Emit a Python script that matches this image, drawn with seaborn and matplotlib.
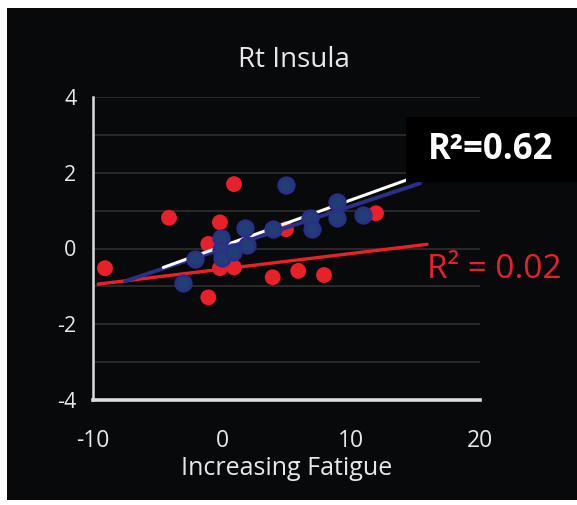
import matplotlib
matplotlib.use("Agg")
import matplotlib.pyplot as plt
from matplotlib.patches import Rectangle
import numpy as np
import pandas as pd
import seaborn as sns

# Per-subject change scores against fatigue
red_x = [-9.07, -4.11, -1.06, -0.16, 0.93, -0.16, 0.93, -1.06, 3.93, 4.96, 5.91, 7.91, 11.94]
red_y = [-0.52, 0.81, 0.12, 0.69, 1.70, -0.52, -0.50, -1.29, -0.76, 0.51, -0.59, -0.70, 0.93]

blue_x = [-3.05, -2.09, -0.10, -0.05, -0.02, 0.88, 1.78, 1.91, 3.93, 4.96, 6.82, 6.95, 8.94, 8.94, 10.91]
blue_y = [-0.92, -0.28, 0.28, -0.04, -0.25, -0.08, 0.53, 0.09, 0.51, 1.68, 0.80, 0.51, 1.23, 0.80, 0.88]

# Fitted trend lines (end points)
red_fit_x = [-9.6, 15.9]
red_fit_y = [-0.94, 0.11]
blue_fit_x = [-7.5, 15.35]
blue_fit_y = [-0.86, 1.72]
white_fit_x = [-4.55, 14.32]
white_fit_y = [-0.50, 1.81]

x_ticks = [-10, 0, 10, 20]
y_ticks = [-4, -2, 0, 2, 4]
title = "Rt Insula"
x_label = "Increasing Fatigue"
r2_blue = "R²=0.62"
r2_red = "R² = 0.02"

sns.set_style("dark")
plt.rcParams["font.family"] = ["Open Sans", "DejaVu Sans"]
plt.rcParams["axes.unicode_minus"] = False

BG = "#08090b"
RED = "#e8202a"
NAVY = "#2a2f88"
TEAL = "#213f74"
FG = "#e8e8e8"

W, H = 577, 505
fig = plt.figure(figsize=(W / 100, H / 100), dpi=100)
fig.patch.set_facecolor("white")
fig.patches.append(Rectangle((7 / W, 5 / H), (W - 7) / W, 492 / H,
                             transform=fig.transFigure, facecolor=BG,
                             edgecolor="none", zorder=-5))

ax = fig.add_axes([93 / W, (H - 400) / H, 387 / W, 303 / H])
ax.set_facecolor(BG)

red_df = pd.DataFrame({"fatigue": red_x, "change": red_y})
blue_df = pd.DataFrame({"fatigue": blue_x, "change": blue_y})

sns.lineplot(x=red_fit_x, y=red_fit_y, ax=ax, color=RED, lw=2.4, zorder=3)
sns.scatterplot(data=red_df, x="fatigue", y="change", ax=ax, color=RED,
                s=130, edgecolor="none", zorder=2)
sns.lineplot(x=blue_fit_x, y=blue_fit_y, ax=ax, color=NAVY, lw=2.8, zorder=4)
sns.lineplot(x=white_fit_x, y=white_fit_y, ax=ax, color="white", lw=2.2, zorder=5)
sns.scatterplot(data=blue_df, x="fatigue", y="change", ax=ax, color=TEAL,
                s=120, edgecolor=NAVY, linewidth=2.2, zorder=6)

ax.set_xlim(-10, 20)
ax.set_ylim(-4, 4)
ax.set_xticks(x_ticks)
ax.set_yticks(y_ticks)
ax.set_yticks(np.arange(-3, 4, 2), minor=True)
ax.grid(True, which="both", axis="y", color="#2c2c2c", lw=1.3)
ax.grid(False, axis="x")
ax.tick_params(axis="x", colors=FG, labelsize=16.5, length=0, pad=21)
ax.tick_params(axis="y", colors=FG, labelsize=15.5, length=0, pad=12)
ax.tick_params(which="minor", length=0)

for side in ["top", "right"]:
    ax.spines[side].set_visible(False)
ax.spines["left"].set_color("#dddddd")
ax.spines["left"].set_linewidth(1.8)
ax.spines["bottom"].set_color("#dddddd")
ax.spines["bottom"].set_linewidth(2.6)

ax.set_xlabel(x_label, color=FG, fontsize=18, labelpad=2)
ax.set_ylabel("")
fig.text(294 / W, 1 - 60 / H, title, color=FG, fontsize=20,
         ha="center", va="center")

# Highlight box for the strong fit
fig.patches.append(Rectangle((406 / W, 1 - 182 / H), (W - 406) / W, 65 / H,
                             transform=fig.transFigure, facecolor="black",
                             edgecolor="none", zorder=10))
fig.text(491 / W, 1 - 150 / H, r2_blue, color="white", fontsize=25,
         fontweight="bold", ha="center", va="center", zorder=11)
fig.text(427 / W, 1 - 270 / H, r2_red, color=RED, fontsize=24,
         ha="left", va="center", zorder=11)

fig.savefig("out.png", dpi=100, facecolor=fig.get_facecolor())
